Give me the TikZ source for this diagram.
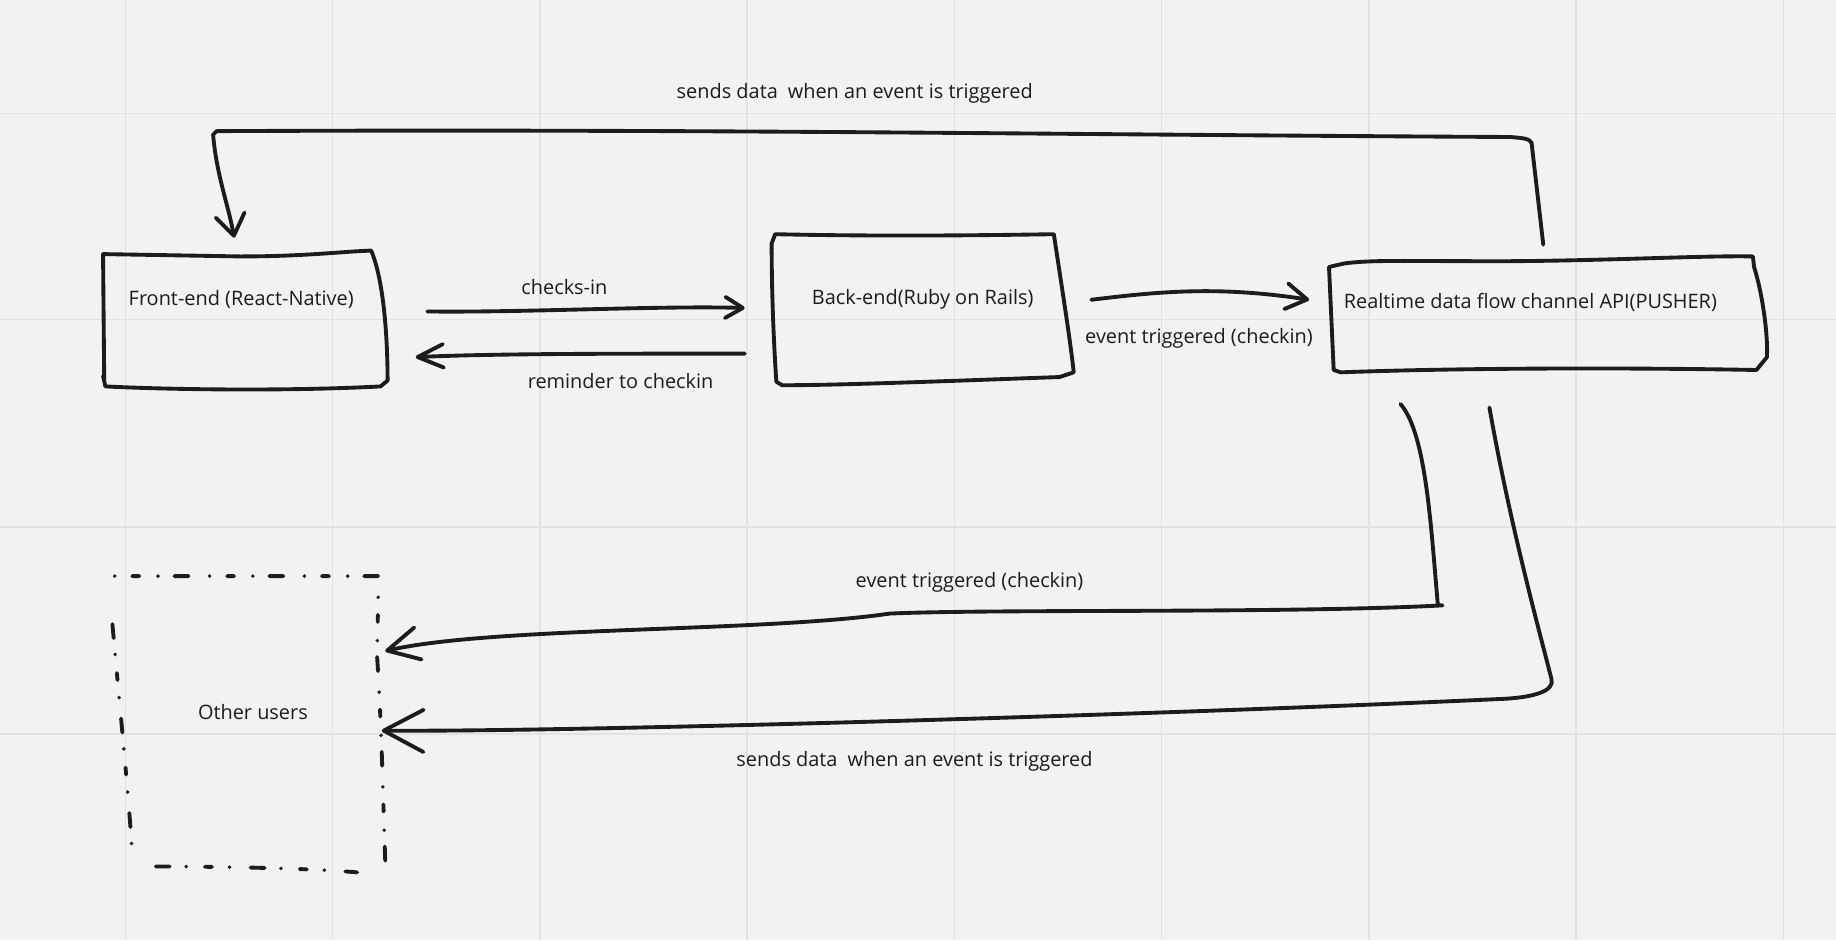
\documentclass[tikz,border=0pt]{standalone}
\usepackage{fontspec}
\setmainfont{Open Sans}
\usetikzlibrary{arrows.meta}
\definecolor{bg}{HTML}{F2F2F2}
\definecolor{gridc}{HTML}{E2E2E2}
\definecolor{ink}{HTML}{1C1C1C}
\begin{document}
\begin{tikzpicture}[x=1pt,y=-1pt,
  inkline/.style={draw=ink,line width=3.3pt,line cap=round,line join=round},
  lbl/.style={font=\fontsize{17}{20}\selectfont,text=ink,inner sep=0pt},
  tipend/.style 2 args={-{Straight Barb[length=#1,width=#2,round]}},
  dashy/.style={draw=ink,line width=3.3pt,line cap=round,
    dash pattern=on 12pt off 14pt on 0.01pt off 16pt on 6pt off 15pt on 0.01pt off 18pt}
]
\fill[bg] (0,0) rectangle (1568,803);
\useasboundingbox (0,0) rectangle (1568,803);
\foreach \x in {107,284,461,638,815,992,1169,1346,1523}
  \draw[gridc,line width=1.2pt] (\x,0) -- (\x,803);
\foreach \y in {97,273,450,627}
  \draw[gridc,line width=1.2pt] (0,\y) -- (1568,\y);

% ---- boxes ----
\node[lbl] (fe) at (206,256) {Front-end (React-Native)};
\draw[inkline] (89,325) -- (88,217) -- (205,219) .. controls (260,219) and (290,215) .. (317,214)
  .. controls (328,240) and (331,290) .. (331,325) -- (325,330)
  .. controls (250,334) and (150,333) .. (90,330) -- (88,321);

\node[lbl] (be) at (788,256) {Back-end(Ruby on Rails)};
\draw[inkline] (663,326) .. controls (660,280) and (659,240) .. (659,208) -- (662,200)
  .. controls (750,202) and (840,201) .. (900,200)
  .. controls (906,240) and (914,290) .. (917,318) -- (905,322)
  .. controls (820,325) and (720,329) .. (668,329) -- cycle;

\node[lbl] (rt) at (1307,258) {Realtime data flow channel API(PUSHER)};
\draw[inkline] (1139,316) -- (1135,228) -- (1148,225) .. controls (1170,222) and (1200,223) .. (1250,223)
  .. controls (1350,224) and (1450,218) .. (1497,219) -- (1498,228)
  .. controls (1505,250) and (1510,285) .. (1509,305) -- (1500,316)
  .. controls (1400,314) and (1250,314) .. (1145,318) -- cycle;

\node[lbl] (ou) at (216,608) {Other users};
\draw[dashy] (323,492) -- (97,492) -- (97,498)
  (96,533) .. controls (102,600) and (110,680) .. (113,730)
  (133,740) .. controls (200,740) and (270,742) .. (305,745)
  (329,735) .. controls (327,680) and (326,620) .. (322,560) -- (323,510);

% ---- connectors ----
\coordinate (c1s) at (365,266); \coordinate (c1e) at (636,263);
\draw[inkline,tipend={15pt}{18pt}] (c1s) .. controls (450,267) and (560,261) .. (c1e);
\node[lbl] (l1) at (482,245) {checks-in};

\coordinate (c2s) at (636,302); \coordinate (c2e) at (355,305);
\draw[inkline,tipend={22pt}{20pt}] (c2s) .. controls (520,302) and (420,302) .. (c2e);
\node[lbl] (l2) at (530,325) {reminder to checkin};

\coordinate (c3s) at (932,256); \coordinate (c3e) at (1118,256);
\draw[inkline,tipend={18pt}{22pt}] (c3s) .. controls (990,249) and (1040,244) .. (c3e);
\node[lbl] (l3) at (1024,289) {event triggered (checkin)};

\coordinate (c4s) at (1318,209); \coordinate (c4e) at (200,203);
\draw[inkline,tipend={18pt}{25pt}] (c4s) -- (1308,122) .. controls (1306,118) and (1300,118) .. (1290,117)
  .. controls (900,115) and (600,110) .. (185,112) -- (182,115)
  .. controls (185,150) and (195,175) .. (c4e);
\node[lbl] (l4) at (730,80) {sends data\enspace when an event is triggered};

\coordinate (c5s) at (1196,345); \coordinate (c5e) at (329,556);
\draw[inkline,tipend={27pt}{28pt}] (c5s) .. controls (1218,370) and (1222,450) .. (1228,517) -- (1232,517)
  .. controls (1100,524) and (850,520) .. (760,524)
  .. controls (650,540) and (420,535) .. (c5e);
\node[lbl] (l5) at (828,497) {event triggered (checkin)};

\coordinate (c6s) at (1272,348); \coordinate (c6e) at (326,624);
\draw[inkline,tipend={34pt}{36pt}] (c6s) .. controls (1290,450) and (1315,540) .. (1325,580)
  .. controls (1328,590) and (1310,596) .. (1280,597)
  .. controls (1000,610) and (500,625) .. (c6e);
\node[lbl] (l6) at (781,650) {sends data\enspace when an event is triggered};
\end{tikzpicture}
\end{document}
